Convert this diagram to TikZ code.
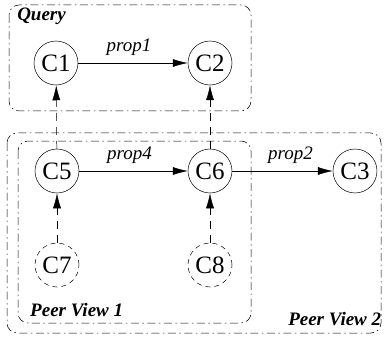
\documentclass[tikz,border=0pt]{standalone}
\usepackage{fontspec}
\setmainfont{Liberation Serif}
\usetikzlibrary{arrows.meta}
\tikzset{
  concept/.style={draw, circle, minimum size=44pt, inner sep=0pt, font=\fontsize{25}{25}\selectfont},
  hidden/.style={concept, dashed, dash pattern=on 5pt off 4pt},
  region/.style={draw, rounded corners=10pt, dash pattern=on 8pt off 3.5pt on 1.5pt off 3.5pt},
  regionlabel/.style={font=\fontsize{19}{19}\selectfont\bfseries\itshape, anchor=west, inner sep=0pt},
  proplabel/.style={font=\fontsize{19}{19}\selectfont\itshape, inner sep=0pt},
  rel/.style={-{Latex[length=15pt,width=8pt]}},
  map/.style={rel, dash pattern=on 8pt off 6pt},
}
\begin{document}
\begin{tikzpicture}[x=1pt,y=-1pt,line width=0.5pt]
  \useasboundingbox (0,0) rectangle (386,337);
  % grouping boxes
  \draw[region] (9,5) rectangle (251,111);
  \draw[region] (7,133) rectangle (381,333);
  \draw[region] (18,141) rectangle (251,323);
  \node[regionlabel] (q) at (17,16) {Query};
  \node[regionlabel] (pv1) at (30,310) {Peer View 1};
  \node[regionlabel] (pv2) at (288,319) {Peer View 2};
  % concepts
  \node[concept] (c1) at (56,63) {C1};
  \node[concept] (c2) at (210,63) {C2};
  \node[concept] (c5) at (57,171) {C5};
  \node[concept] (c6) at (210,171) {C6};
  \node[concept] (c3) at (355,171) {C3};
  \node[hidden] (c7) at (57,265) {C7};
  \node[hidden] (c8) at (210,265) {C8};
  % properties
  \draw[rel] (c1) -- node[proplabel, above=7pt, xshift=-4pt] (p1) {prop1} (c2);
  \draw[rel] (c5) -- node[proplabel, above=7pt, xshift=-4pt] (p4) {prop4} (c6);
  \draw[rel] (c6) -- node[proplabel, above=7pt, xshift=8pt] (p2) {prop2} (c3);
  % mappings
  \draw[map] (c5) -- (c1);
  \draw[map] (c6) -- (c2);
  \draw[map] (c7) -- (c5);
  \draw[map] (c8) -- (c6);
\end{tikzpicture}
\end{document}
